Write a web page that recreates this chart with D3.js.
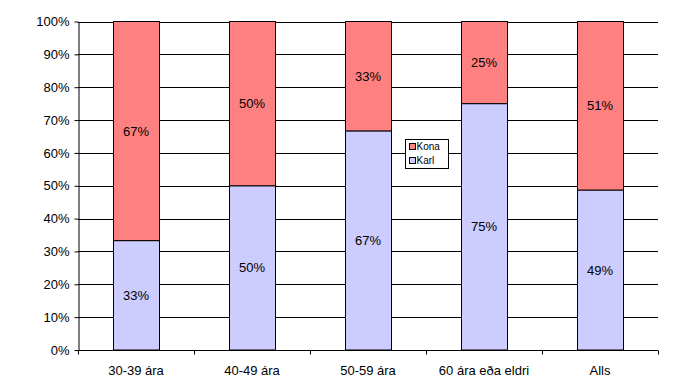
<!DOCTYPE html>
<html>
<head>
<meta charset="utf-8">
<script src="https://cdn.jsdelivr.net/npm/d3@7"></script>
<style>
  body { margin: 0; background: #fff; }
  text { font-family: "Liberation Sans", Arial, sans-serif; }
</style>
</head>
<body>
<script>
    const categories = ['30-39 ára', '40-49 ára', '50-59 ára', '60 ára eða eldri', 'Alls'];
    const karl = [33.3, 50, 66.7, 75, 48.7];
    const kona = [66.7, 50, 33.3, 25, 51.3];
    const karlLabels = ['33%', '50%', '67%', '75%', '49%'];
    const konaLabels = ['67%', '50%', '33%', '25%', '51%'];
    const yTicks = [0, 10, 20, 30, 40, 50, 60, 70, 80, 90, 100];

    const m = { left: 78, right: 658, top: 21.5, bottom: 350 };

    const svg = d3.select('body')
        .append('svg')
        .attr('width', 680)
        .attr('height', 392);

    const x = d3.scaleBand()
        .domain(categories)
        .range([m.left, m.right])
        .paddingInner(0.6)
        .paddingOuter(0.3);

    const y = d3.scaleLinear()
        .domain([0, 100])
        .range([m.bottom, m.top]);

    // gridlines
    svg.append('g')
        .selectAll('line')
        .data(yTicks)
        .enter()
        .append('line')
        .attr('x1', m.left)
        .attr('x2', m.right)
        .attr('y1', d => Math.round(y(d)) + 0.5)
        .attr('y2', d => Math.round(y(d)) + 0.5)
        .attr('stroke', '#000');

    // y axis
    const yAxis = svg.append('g')
        .attr('transform', `translate(${m.left + 0.5},0)`)
        .call(d3.axisLeft(y).tickValues(yTicks).tickFormat(d => d + '%').tickSize(4).tickSizeOuter(0));
    yAxis.select('.domain').attr('stroke', '#000');
    yAxis.selectAll('.tick line').attr('stroke', '#000');
    yAxis.selectAll('.tick text')
        .attr('font-size', 13)
        .attr('font-family', '"Liberation Sans", Arial, sans-serif')
        .attr('fill', '#000')
        .attr('x', -9);

    // bars
    const bars = svg.append('g');
    bars.selectAll('rect.karl')
        .data(karl)
        .enter()
        .append('rect')
        .attr('class', 'karl')
        .attr('x', (d, i) => Math.round(x(categories[i])) + 0.5)
        .attr('width', Math.round(x.bandwidth()))
        .attr('y', d => y(d))
        .attr('height', d => y(0) - y(d))
        .attr('fill', '#CCCCFF')
        .attr('stroke', '#000');

    bars.selectAll('rect.kona')
        .data(kona)
        .enter()
        .append('rect')
        .attr('class', 'kona')
        .attr('x', (d, i) => Math.round(x(categories[i])) + 0.5)
        .attr('width', Math.round(x.bandwidth()))
        .attr('y', (d, i) => y(karl[i] + d))
        .attr('height', (d, i) => y(karl[i]) - y(karl[i] + d))
        .attr('fill', '#FF8080')
        .attr('stroke', '#000');

    // value labels
    bars.selectAll('text.karl')
        .data(karl)
        .enter()
        .append('text')
        .attr('x', (d, i) => x(categories[i]) + x.bandwidth() / 2)
        .attr('y', d => y(d / 2))
        .attr('dy', '0.35em')
        .attr('text-anchor', 'middle')
        .attr('font-size', 13)
        .text((d, i) => karlLabels[i]);

    bars.selectAll('text.kona')
        .data(kona)
        .enter()
        .append('text')
        .attr('x', (d, i) => x(categories[i]) + x.bandwidth() / 2)
        .attr('y', (d, i) => y(karl[i] + d / 2))
        .attr('dy', '0.35em')
        .attr('text-anchor', 'middle')
        .attr('font-size', 13)
        .text((d, i) => konaLabels[i]);

    // x axis
    const xAxis = svg.append('g')
        .attr('transform', `translate(0,${m.bottom + 0.5})`);
    xAxis.append('line')
        .attr('x1', m.left)
        .attr('x2', m.right)
        .attr('stroke', '#000');
    const step = (m.right - m.left) / categories.length;
    xAxis.selectAll('line.tick')
        .data(d3.range(categories.length + 1))
        .enter()
        .append('line')
        .attr('class', 'tick')
        .attr('x1', d => Math.round(m.left + d * step) + 0.5)
        .attr('x2', d => Math.round(m.left + d * step) + 0.5)
        .attr('y1', 0)
        .attr('y2', 4)
        .attr('stroke', '#000');
    xAxis.selectAll('text')
        .data(categories)
        .enter()
        .append('text')
        .attr('x', d => x(d) + x.bandwidth() / 2)
        .attr('y', 24)
        .attr('text-anchor', 'middle')
        .attr('font-size', 13)
        .text(d => d);

    // legend
    const legend = svg.append('g').attr('transform', 'translate(405.5,139.5)');
    legend.append('rect')
        .attr('width', 43)
        .attr('height', 29)
        .attr('fill', '#fff')
        .attr('stroke', '#000');
    const legendItems = [['Kona', '#FF8080'], ['Karl', '#CCCCFF']];
    legendItems.forEach((item, i) => {
        legend.append('rect')
            .attr('x', 4)
            .attr('y', 4 + i * 14)
            .attr('width', 6)
            .attr('height', 6)
            .attr('fill', item[1])
            .attr('stroke', '#000');
        legend.append('text')
            .attr('x', 11)
            .attr('y', 7 + i * 14)
            .attr('dy', '0.35em')
            .attr('font-size', 10)
            .text(item[0]);
    });
</script>
</body>
</html>
